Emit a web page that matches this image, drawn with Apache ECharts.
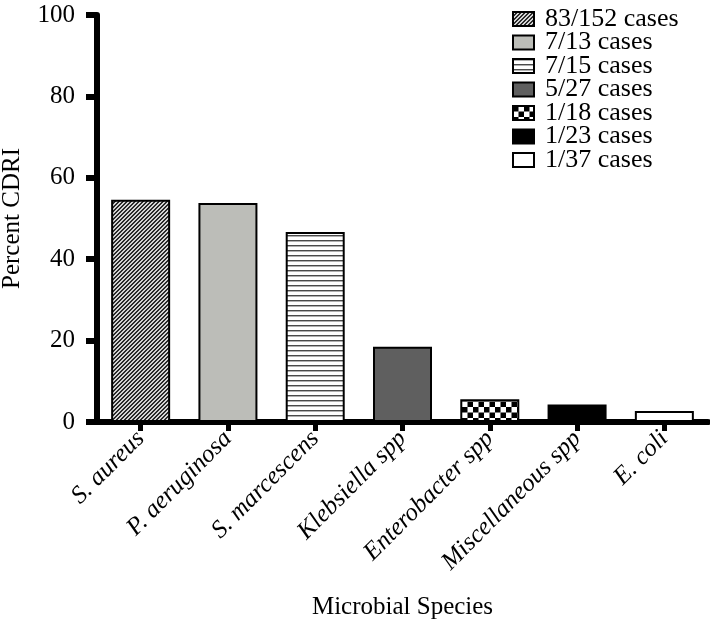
<!DOCTYPE html>
<html>
<head>
<meta charset="utf-8">
<script src="https://cdn.jsdelivr.net/npm/echarts@6/dist/echarts.min.js"></script>
<style>
html,body{margin:0;padding:0;background:#fff;}
#chart{width:710px;height:630px;}
</style>
</head>
<body>
<div id="chart"></div>
<script>
// ---- data ----
var categories = ['S. aureus', 'P. aeruginosa', 'S. marcescens', 'Klebsiella spp', 'Enterobacter spp', 'Miscellaneous spp', 'E. coli'];
var caseLabels = ['83/152 cases', '7/13 cases', '7/15 cases', '5/27 cases', '1/18 cases', '1/23 cases', '1/37 cases'];
var percentValues = [54.6, 53.8, 46.7, 18.5, 5.6, 4.3, 2.7];
var yTicks = [0, 20, 40, 60, 80, 100];

// ---- patterns ----
function makeCanvas(w, h, draw) {
  var c = document.createElement('canvas');
  c.width = w; c.height = h;
  draw(c.getContext('2d'));
  return c;
}
var hatch = makeCanvas(4, 4, function (ctx) {
  ctx.fillStyle = '#d4d4d4'; ctx.fillRect(0, 0, 4, 4);
  ctx.fillStyle = '#2a2a2a';
  for (var i = 0; i < 4; i++) {
    ctx.fillRect(i, 3 - i, 1, 1);
    ctx.fillRect((i + 1) % 4, 3 - i, 1, 1);
  }
});
var stripes = makeCanvas(4, 5, function (ctx) {
  ctx.fillStyle = '#ffffff'; ctx.fillRect(0, 0, 4, 5);
  ctx.fillStyle = '#4a4a4a'; ctx.fillRect(0, 0, 4, 1);
  ctx.fillStyle = '#b0b0b0'; ctx.fillRect(0, 1, 4, 1);
});
var checks = makeCanvas(11, 11, function (ctx) {
  ctx.fillStyle = '#ffffff'; ctx.fillRect(0, 0, 11, 11);
  ctx.fillStyle = '#000000';
  ctx.fillRect(0, 0, 5.5, 5.5); ctx.fillRect(5.5, 5.5, 5.5, 5.5);
});
var fills = [
  { image: hatch, repeat: 'repeat' },
  '#bcbdb8',
  { image: stripes, repeat: 'repeat' },
  '#5f5f5f',
  { image: checks, repeat: 'repeat' },
  '#000000',
  '#ffffff'
];

var FONT = '"Liberation Serif", "DejaVu Serif", serif';

var series = caseLabels.map(function (name, idx) {
  var d = categories.map(function (c, j) { return j === idx ? percentValues[j] : '-'; });
  return {
    name: name,
    type: 'bar',
    data: d,
    barWidth: 59,
    barGap: '-100%',
    itemStyle: { color: fills[idx], borderColor: '#000', borderWidth: 2 },
    emphasis: { disabled: true },
    animation: false
  };
});

var chart = echarts.init(document.getElementById('chart'), null, { renderer: 'canvas' });
chart.setOption({
  backgroundColor: '#ffffff',
  animation: false,
  grid: { left: 97, right: 2, top: 15, bottom: 208, containLabel: false, outerBoundsMode: 'none' },
  legend: {
    orient: 'vertical',
    left: 512,
    top: 6,
    itemWidth: 21,
    itemHeight: 14,
    itemGap: -2.5,
    padding: 0,
    selectedMode: false,
    icon: 'rect',
    textStyle: { fontFamily: FONT, fontSize: 26, color: '#000', padding: [0, 0, 0, 6] },
    data: caseLabels
  },
  xAxis: {
    type: 'category',
    data: categories,
    name: 'Microbial Species',
    nameLocation: 'middle',
    nameGap: 173,
    nameTextStyle: { fontFamily: FONT, fontSize: 25, color: '#000' },
    axisLine: { show: true, lineStyle: { color: '#000', width: 6 } },
    axisTick: { show: true, alignWithLabel: true, length: 9, lineStyle: { color: '#000', width: 5 } },
    axisLabel: { rotate: 45, margin: 13, interval: 0, fontFamily: FONT, fontStyle: 'italic', fontSize: 25, color: '#000' },
    splitLine: { show: false }
  },
  yAxis: {
    type: 'value',
    min: yTicks[0],
    max: yTicks[yTicks.length - 1],
    interval: 20,
    name: 'Percent CDRI',
    nameLocation: 'middle',
    nameGap: 72,
    nameTextStyle: { fontFamily: FONT, fontSize: 25, color: '#000' },
    axisLine: { show: true, lineStyle: { color: '#000', width: 6 } },
    axisTick: { show: true, length: 11, lineStyle: { color: '#000', width: 6 } },
    axisLabel: { margin: 22, fontFamily: FONT, fontSize: 25, color: '#000' },
    splitLine: { show: false }
  },
  series: series
});
</script>
</body>
</html>
